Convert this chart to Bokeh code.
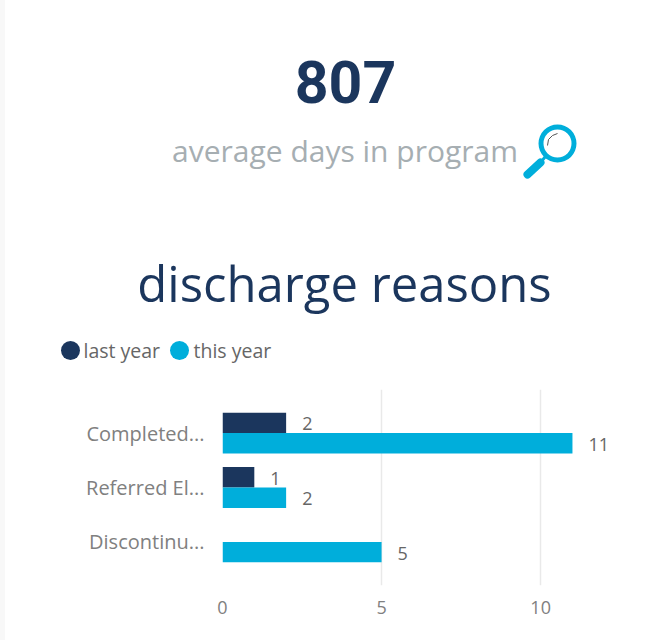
from bokeh.plotting import figure
from bokeh.layouts import column, row
from bokeh.models import (ColumnDataSource, FactorRange, Range1d, FixedTicker, Spacer)
from bokeh.transform import dodge
from bokeh.core.properties import value
from bokeh.embed import file_html
from bokeh.resources import INLINE

categories = ["Completed...", "Referred El...", "Discontinu..."]
last_year = [2, 1, None]
this_year = [11, 2, 5]
x_ticks = [0, 5, 10]
big_number = "807"
subtitle = "average days in program"
chart_title = "discharge reasons"
legend_labels = ["last year", "this year"]

NAVY = "#1b365d"
CYAN = "#00aedb"
STRIP = 5
HEAD_H = 384
FONT = "Open Sans"

# ---------- header: one data unit is one pixel ----------
h = figure(width=661 - STRIP, height=HEAD_H, output_backend="svg", toolbar_location=None,
           x_range=Range1d(STRIP, 661), y_range=Range1d(HEAD_H, 0),
           min_border=0, min_border_left=0, min_border_right=0, min_border_top=0, min_border_bottom=0,
           outline_line_color=None, background_fill_color="white", border_fill_color="white")
h.axis.visible = False
h.grid.visible = False

h.text(x=[345], y=[81], text=[big_number], text_font=value("Roboto"), text_font_size="59px",
       text_font_style="bold", text_color=NAVY, text_align="center", text_baseline="alphabetic")
h.text(x=[344.5], y=[150], text=[subtitle], text_font=value(FONT), text_font_size="30px",
       text_color="#a6aeb2", text_align="center", text_baseline="alphabetic")
h.text(x=[344], y=[282], text=[chart_title], text_font=value(FONT), text_font_size="49px",
       text_color=NAVY, text_align="center", text_baseline="alphabetic")

# magnifier icon
h.annulus(x=[557], y=[143], inner_radius=14, outer_radius=19, fill_color=CYAN, line_color=None)
h.line(x=[527, 540], y=[174, 162], line_color=CYAN, line_width=8, line_cap="round")
h.line(x=[540, 545], y=[162, 156], line_color=CYAN, line_width=3)
h.line(x=[547, 548, 552, 557], y=[145, 139, 135, 133], line_color="#555555", line_width=1)

# legend
h.scatter(x=[70, 179], y=[350, 350], size=19, marker="circle", fill_color=[NAVY, CYAN], line_color=None)
h.text(x=[83, 193], y=[350, 350], text=legend_labels, text_font=value(FONT), text_font_size="19.5px",
       text_color="#666666", text_align="left", text_baseline="middle")

# ---------- bar chart ----------
p = figure(width=661 - STRIP, height=640 - HEAD_H, output_backend="svg", toolbar_location=None,
           x_range=Range1d(0, 12.51),
           y_range=FactorRange(factors=categories[::-1], range_padding=0.2),
           min_border_left=217, min_border_right=41, min_border_top=5, min_border_bottom=55,
           background_fill_color="white", border_fill_color="white", outline_line_color=None)

ly = [(c, v) for c, v in zip(categories, last_year) if v is not None]
src_last = ColumnDataSource(dict(cat=[a for a, _ in ly], val=[b for _, b in ly], txt=[str(b) for _, b in ly]))
src_this = ColumnDataSource(dict(cat=categories, val=this_year, txt=[str(v) for v in this_year]))

p.hbar(y=dodge("cat", 0.1875, range=p.y_range), right="val", left=0, height=0.375, source=src_last,
       fill_color=NAVY, line_color=None)
p.hbar(y=dodge("cat", -0.1875, range=p.y_range), right="val", left=0, height=0.375, source=src_this,
       fill_color=CYAN, line_color=None)

for src, d in ((src_last, 0.1875), (src_this, -0.1875)):
    p.text(x="val", y=dodge("cat", d, range=p.y_range), text="txt", source=src, x_offset=16, y_offset=1,
           text_align="left", text_baseline="middle", text_color="#666666",
           text_font=value(FONT), text_font_size="18px")

p.xaxis.ticker = FixedTicker(ticks=x_ticks)
for ax in (p.xaxis[0], p.yaxis[0]):
    ax.axis_line_color = None
    ax.major_tick_line_color = None
    ax.minor_tick_line_color = None
    ax.major_label_text_font = FONT
    ax.major_label_text_color = "#808080"
p.xaxis.major_label_text_font_size = "18px"
p.yaxis.major_label_text_font_size = "20px"
p.xaxis.major_label_standoff = 9
p.yaxis.major_label_standoff = 12
p.ygrid.grid_line_color = None
p.xgrid.ticker = FixedTicker(ticks=x_ticks)
p.xgrid.grid_line_color = "#e9e9e9"
p.xgrid.grid_line_width = 1.5

strip = Spacer(width=STRIP, height=640, styles={"background-color": "#f8f8f8"})
page = row(strip, column(row(h), row(p), spacing=0), spacing=0)

open("out.html", "w").write(file_html(page, INLINE))
